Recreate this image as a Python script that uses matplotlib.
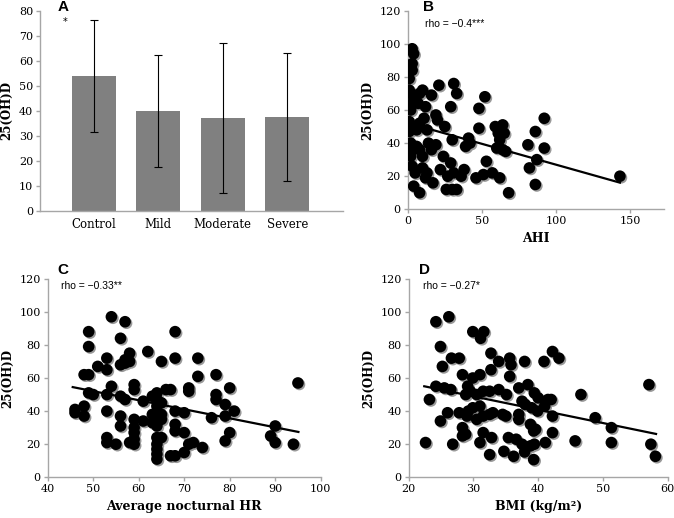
import matplotlib.pyplot as plt
import matplotlib.transforms as mtransforms
import numpy as np

# Panel A: group means with SD
groups = ["Control", "Mild", "Moderate", "Severe"]
group_means = [53.9, 40.0, 37.2, 37.6]
group_sd = [22.4, 22.4, 29.9, 25.7]

# Panel B: AHI vs 25(OH)D
ahi = [3, 4, 3, 3, 1, 1, 2, 4, 3, 2, 1, 3, 1, 2, 3, 2, 3, 5, 4, 8,
       10, 8, 16, 21, 31, 33, 29, 12, 7, 11, 8, 19, 20, 25, 6, 13,
       48, 52, 48, 59, 64, 61, 65, 62, 60, 64, 66,
       92, 86, 81, 92, 87, 82, 86, 143,
       30, 39, 41, 42, 14, 19, 16, 10, 6, 8,
       24, 29, 22, 27, 31, 36, 38, 13, 12, 17, 10,
       26, 30, 33, 46, 51, 53, 57, 62, 68]
vitd_b = [97, 94, 88, 84, 79, 72, 70, 68, 64, 60, 53, 50, 47, 40, 36, 32, 26, 22, 14, 10,
          72, 70, 69, 75, 76, 70, 62, 62, 64, 55, 52, 57, 54, 50, 48, 48,
          61, 68, 49, 50, 51, 46, 46, 42, 37, 36, 35,
          55, 47, 39, 37, 30, 25, 15, 20,
          42, 38, 43, 40, 40, 39, 36, 32, 38, 36,
          32, 28, 24, 20, 22, 20, 24, 22, 19, 16, 25,
          12, 12, 12, 19, 21, 29, 22, 19, 10]
trend_b_x = [13, 143]
trend_b_y = [48.9, 16.1]

# Panel C: average nocturnal HR vs 25(OH)D
hr = [54, 57, 49, 68, 49, 56, 62, 53, 58, 57, 58, 56, 57, 68, 73, 65, 51, 53, 48, 49,
      73, 77, 80, 54, 53, 50, 49, 56, 57, 59, 59, 61, 63, 64, 64, 65, 66, 67, 71, 71,
      77, 77, 79, 81, 79, 76, 68, 70, 46, 46, 48, 48, 53, 56, 56, 59, 59, 59, 61, 63,
      63, 64, 65, 65, 64, 68, 68, 70, 53, 53, 55, 58, 59, 59, 64, 65, 64, 64, 64, 64,
      67, 68, 70, 71, 72, 74, 79, 80, 89, 90, 90, 94, 95]
vitd_c = [97, 94, 88, 88, 79, 84, 76, 72, 75, 71, 70, 68, 69, 72, 72, 70, 67, 65, 62, 62,
          61, 62, 54, 55, 50, 50, 51, 49, 47, 56, 53, 46, 49, 51, 47, 45, 53, 53, 54, 52,
          50, 47, 44, 40, 37, 36, 40, 39, 41, 39, 43, 37, 40, 37, 31, 35, 30, 27, 34, 33,
          38, 43, 35, 38, 31, 32, 28, 27, 24, 21, 20, 21, 20, 23, 24, 24, 20, 17, 14, 11,
          13, 13, 15, 20, 21, 18, 22, 27, 25, 31, 21, 20, 57]
trend_c_x = [45.5, 95.1]
trend_c_y = [54.5, 27.4]

# Panel D: BMI vs 25(OH)D
bmi = [24.2, 26.2, 24.9, 29.9, 31.1, 31.6, 25.2, 26.6, 27.8, 32.7, 33.9, 35.6, 35.8, 35.6,
       37.9, 40.9, 42.2, 43.2, 28.3, 29.9, 31.0, 32.7, 24.2, 25.5, 26.5, 29.1, 29.5, 28.8,
       30.5, 31.5, 32.5, 33.9, 35.1, 37.0, 38.4, 39.4, 40.0, 41.5, 42.0, 46.6, 57.1, 37.5,
       38.0, 39.0, 39.9, 41.0, 37.0, 37.0, 38.8, 39.3, 39.6, 42.2, 42.2, 48.8, 51.3, 51.3,
       45.7, 41.1, 57.4, 58.1, 22.6, 23.2, 24.9, 26.0, 26.8, 27.8, 28.3, 28.8, 28.3, 29.0,
       29.2, 29.9, 30.5, 31.0, 31.5, 31.0, 31.5, 32.8, 32.5, 32.5, 33.0, 34.5, 35.0, 34.7,
       35.4, 36.2, 36.6, 37.5, 37.9, 38.8, 39.4, 39.3]
vitd_d = [94, 97, 79, 88, 84, 88, 67, 72, 72, 75, 70, 72, 68, 61, 70, 70, 76, 72, 62, 60,
          62, 65, 55, 54, 53, 55, 52, 50, 50, 52, 52, 53, 50, 54, 56, 51, 48, 47, 47, 50,
          56, 46, 44, 42, 40, 43, 38, 35, 32, 28, 29, 37, 27, 36, 30, 21, 22, 21, 20, 12.7,
          21, 47, 34, 39, 20, 39, 25, 26, 30, 37, 40, 42, 35, 43, 37, 21, 27, 24, 13.7, 38,
          39, 38, 37, 15.7, 24, 12.7, 23, 20, 15.3, 19, 20, 10.7]
trend_d_x = [22.4, 58.2]
trend_d_y = [55.0, 26.2]

serif = "DejaVu Serif"
narrow = ["Liberation Sans Narrow", "Liberation Sans", "DejaVu Sans"]
axis_grey = "#a6a6a6"

fig = plt.figure(figsize=(6.74, 5.18), dpi=100)

def style_axes(ax):
    for side in ["top", "right"]:
        ax.spines[side].set_visible(False)
    for side in ["left", "bottom"]:
        ax.spines[side].set_color(axis_grey)
        ax.spines[side].set_linewidth(1.0)
    ax.tick_params(direction="out", length=3, color=axis_grey, width=1.0,
                   labelsize=8, pad=2)
    for lab in ax.get_xticklabels() + ax.get_yticklabels():
        lab.set_family(serif)

# Panel A
axA = fig.add_axes([40 / 674, 1 - 211 / 518, 303 / 674, 200.3 / 518])
xpos = np.arange(len(groups))
axA.bar(xpos, group_means, width=0.68, color="#808080")
axA.errorbar(xpos, group_means, yerr=group_sd, fmt="none", ecolor="black",
             elinewidth=0.8, capsize=3, capthick=0.8)
axA.set_xlim(-0.83, 3.86)
axA.set_ylim(0, 80)
axA.set_yticks(range(0, 81, 10))
axA.set_xticks(xpos)
axA.set_xticklabels(groups)
style_axes(axA)
axA.tick_params(axis="x", length=0, labelsize=8.5, pad=5)
axA.set_ylabel("25(OH)D", family=serif, fontweight="bold", fontsize=8.5, labelpad=4)
fig.text(63 / 674, 1 - 7 / 518, "A", fontsize=11, fontweight="bold",
         family="Liberation Sans", ha="center", va="center")
fig.text(65 / 674, 1 - 22 / 518, "*", fontsize=7, family="DejaVu Sans",
         ha="center", va="center")

def scatter_panel(rect, x, y, tx, ty, xlim, xticks, xlabel, letter, rho, letter_xy, rho_xy):
    ax = fig.add_axes(rect)
    shadow = ax.transData + mtransforms.ScaledTranslation(1.5 / 100, -1.5 / 100,
                                                          fig.dpi_scale_trans)
    ax.scatter(x, y, s=70, color="#999999", edgecolors="none", zorder=2,
               transform=shadow)
    ax.scatter(x, y, s=70, color="black", edgecolors="none", zorder=3)
    ax.plot(tx, ty, color="black", lw=1.6, zorder=4)
    ax.set_xlim(*xlim)
    ax.set_ylim(0, 120)
    ax.set_xticks(xticks)
    ax.set_yticks(range(0, 121, 20))
    style_axes(ax)
    ax.set_xlabel(xlabel, family=serif, fontweight="bold", fontsize=9, labelpad=4)
    ax.set_ylabel("25(OH)D", family=serif, fontweight="bold", fontsize=8.5, labelpad=4)
    fig.text(letter_xy[0] / 674, 1 - letter_xy[1] / 518, letter, fontsize=11,
             fontweight="bold", family="Liberation Sans", ha="center", va="center")
    fig.text(rho_xy[0] / 674, 1 - rho_xy[1] / 518, rho, fontsize=7.5,
             family=narrow, ha="left", va="center")
    return ax

scatter_panel([407.7 / 674, 1 - 209.3 / 518, 256 / 674, 198.6 / 518],
              ahi, vitd_b, trend_b_x, trend_b_y, (0, 172.5), [0, 50, 100, 150],
              "AHI", "B", "rho = \u22120.4***", (428, 7), (425, 24))

scatter_panel([47.7 / 674, 1 - 477.3 / 518, 273 / 674, 198.6 / 518],
              hr, vitd_c, trend_c_x, trend_c_y, (40, 100), range(40, 101, 10),
              "Average nocturnal HR", "C", "rho = \u22120.33**", (63, 270), (61, 286))

scatter_panel([408.7 / 674, 1 - 477.3 / 518, 259 / 674, 198.6 / 518],
              bmi, vitd_d, trend_d_x, trend_d_y, (20, 60), range(20, 61, 10),
              "BMI (kg/m\u00b2)", "D", "rho = \u22120.27*", (424, 270), (423, 286))

fig.savefig("out.png", dpi=100)
